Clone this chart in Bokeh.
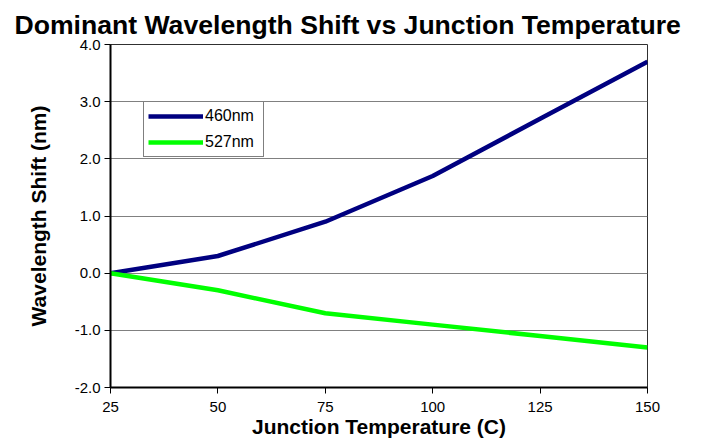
from bokeh.plotting import figure
from bokeh.models import Range1d, NumeralTickFormatter, FixedTicker, Legend, LegendItem
from bokeh.embed import file_html
from bokeh.resources import INLINE

temps = [25, 50, 75, 100, 125, 150]
shift_460 = [0.0, 0.3, 0.9, 1.7, 2.7, 3.7]
shift_527 = [0.0, -0.3, -0.7, -0.9, -1.1, -1.3]
x_ticks = [25, 50, 75, 100, 125, 150]
y_ticks = [-2, -1, 0, 1, 2, 3, 4]

FONT = "Liberation Sans"

p = figure(width=700, height=440, output_backend="svg", toolbar_location=None,
           x_range=Range1d(25, 150), y_range=Range1d(-2, 4),
           min_border_left=110, min_border_right=53, min_border_top=44, min_border_bottom=53)

p.title.text = "Dominant Wavelength Shift vs Junction Temperature"
p.title.text_font = FONT
p.title.text_font_size = "26.6px"
p.title.text_font_style = "bold"
p.title.align = "left"
p.title.offset = -96
p.title.standoff = 9
p.title.text_color = "black"

r1 = p.line(temps, shift_460, line_color="#000080", line_width=4.5)
r2 = p.line(temps, shift_527, line_color="#00FF00", line_width=4.5)

for ax in (p.xaxis[0], p.yaxis[0]):
    ax.axis_line_color = "black"
    ax.axis_line_width = 2
    ax.major_tick_line_color = "black"
    ax.major_tick_line_width = 1
    ax.major_tick_out = 6
    ax.major_tick_in = 0
    ax.minor_tick_line_color = None
    ax.major_label_text_font = FONT
    ax.major_label_text_font_size = "15px"
    ax.major_label_text_color = "black"
    ax.axis_label_text_font = FONT
    ax.axis_label_text_font_size = "21px"
    ax.axis_label_text_font_style = "bold"
    ax.axis_label_text_color = "black"

p.xaxis.ticker = FixedTicker(ticks=x_ticks)
p.yaxis.ticker = FixedTicker(ticks=y_ticks)
p.yaxis.formatter = NumeralTickFormatter(format="0.0")
p.xaxis.axis_label = "Junction Temperature (C)"
p.yaxis.axis_label = "Wavelength Shift (nm)"
p.xaxis.major_label_standoff = 8
p.xaxis.axis_label_standoff = 0
p.yaxis.major_label_standoff = 4
p.yaxis.axis_label_standoff = 22

p.xgrid.grid_line_color = None
p.ygrid.grid_line_color = "#808080"
p.ygrid.grid_line_width = 1

p.outline_line_color = "#303030"
p.outline_line_width = 1
p.background_fill_color = "white"
p.border_fill_color = "white"

legend = Legend(items=[LegendItem(label="460nm", renderers=[r1]),
                       LegendItem(label="527nm", renderers=[r2])],
                location=(33, 230))
legend.border_line_color = "black"
legend.border_line_width = 1
legend.background_fill_color = "white"
legend.background_fill_alpha = 1
legend.label_text_font = FONT
legend.label_text_font_size = "16px"
legend.label_text_color = "black"
legend.glyph_width = 55
legend.glyph_height = 20
legend.label_height = 20
legend.label_width = 54
legend.label_standoff = 2
legend.spacing = 6
legend.padding = 4
legend.margin = 0
p.add_layout(legend)

open("out.html", "w").write(file_html(p, INLINE))
